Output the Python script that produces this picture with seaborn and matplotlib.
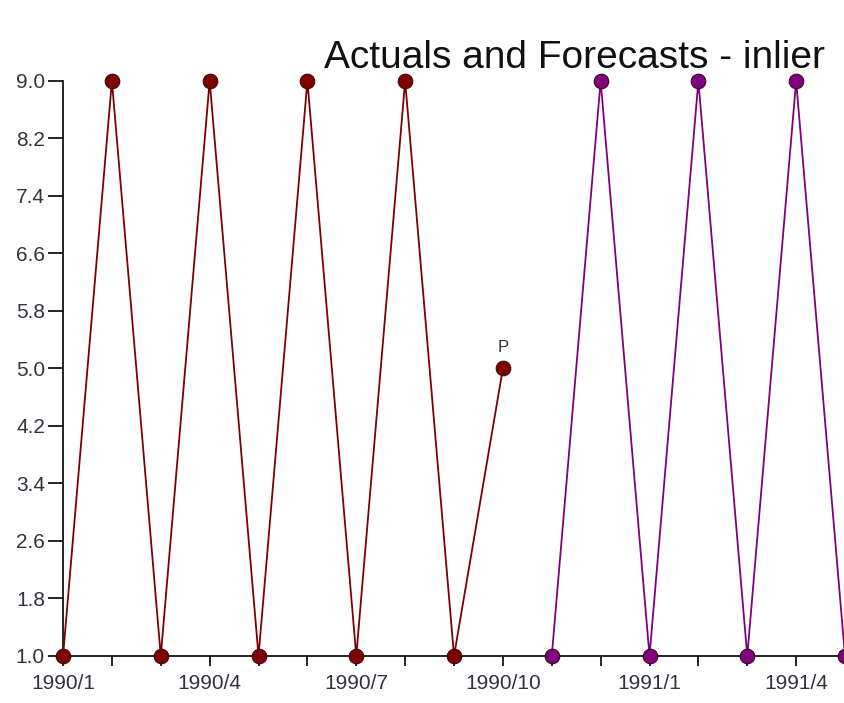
import pandas as pd
import matplotlib.pyplot as plt
import seaborn as sns

sns.set_style("white")
plt.rcParams['font.family'] = ['Liberation Sans', 'DejaVu Sans']

months = ["1990/1", "1990/2", "1990/3", "1990/4", "1990/5", "1990/6", "1990/7",
          "1990/8", "1990/9", "1990/10", "1990/11", "1990/12", "1991/1",
          "1991/2", "1991/3", "1991/4", "1991/5"]
actual_vals = [1, 9, 1, 9, 1, 9, 1, 9, 1, 5]
forecast_vals = [1, 9, 1, 9, 1, 9, 1]
y_ticks = [1.0, 1.8, 2.6, 3.4, 4.2, 5.0, 5.8, 6.6, 7.4, 8.2, 9.0]

act = pd.DataFrame({"m": range(len(actual_vals)), "v": actual_vals})
fc = pd.DataFrame({"m": range(len(actual_vals), len(actual_vals) + len(forecast_vals)),
                   "v": forecast_vals})

fig = plt.figure(figsize=(8.45, 7.03), dpi=100)
ax = fig.add_axes([0.0746, 0.0669, 0.9254, 0.8179])

for d, c in [(act, "#800000"), (fc, "#800080")]:
    sns.lineplot(x="m", y="v", data=d, ax=ax, color=c, lw=1.3, marker="o",
                 markersize=10.5, markeredgecolor="#3a0a10", markeredgewidth=0.8,
                 clip_on=False, zorder=3)

# label on the last actual point
last = act.iloc[-1]
ax.annotate("P", (last["m"], last["v"]), xytext=(0, 10), textcoords="offset points",
            ha="center", va="bottom", fontsize=12, color="#333340")

ax.set_xlim(0, len(months) - 1)
ax.set_ylim(1.0, 9.0)
ax.set_xticks(range(len(months)))
ax.set_xticklabels([m if i % 3 == 0 else "" for i, m in enumerate(months)])
ax.set_yticks(y_ticks)
ax.set_yticklabels([f"{t:.1f}" for t in y_ticks])
ax.tick_params(axis="both", direction="out", width=1.2, colors="black",
               labelsize=15, labelcolor="#333340", bottom=True, left=True)
ax.tick_params(axis="y", length=11, pad=2)
ax.tick_params(axis="x", length=7, pad=6)
ax.set_xlabel("")
ax.set_ylabel("")
sns.despine(ax=ax)
for s in ["left", "bottom"]:
    ax.spines[s].set_color("black")
    ax.spines[s].set_linewidth(1.2)

fig.text(0.976, 0.903, "Actuals and Forecasts - inlier", ha="right", va="baseline",
         fontsize=28, color="#111111")

fig.savefig("out.png", dpi=100)
